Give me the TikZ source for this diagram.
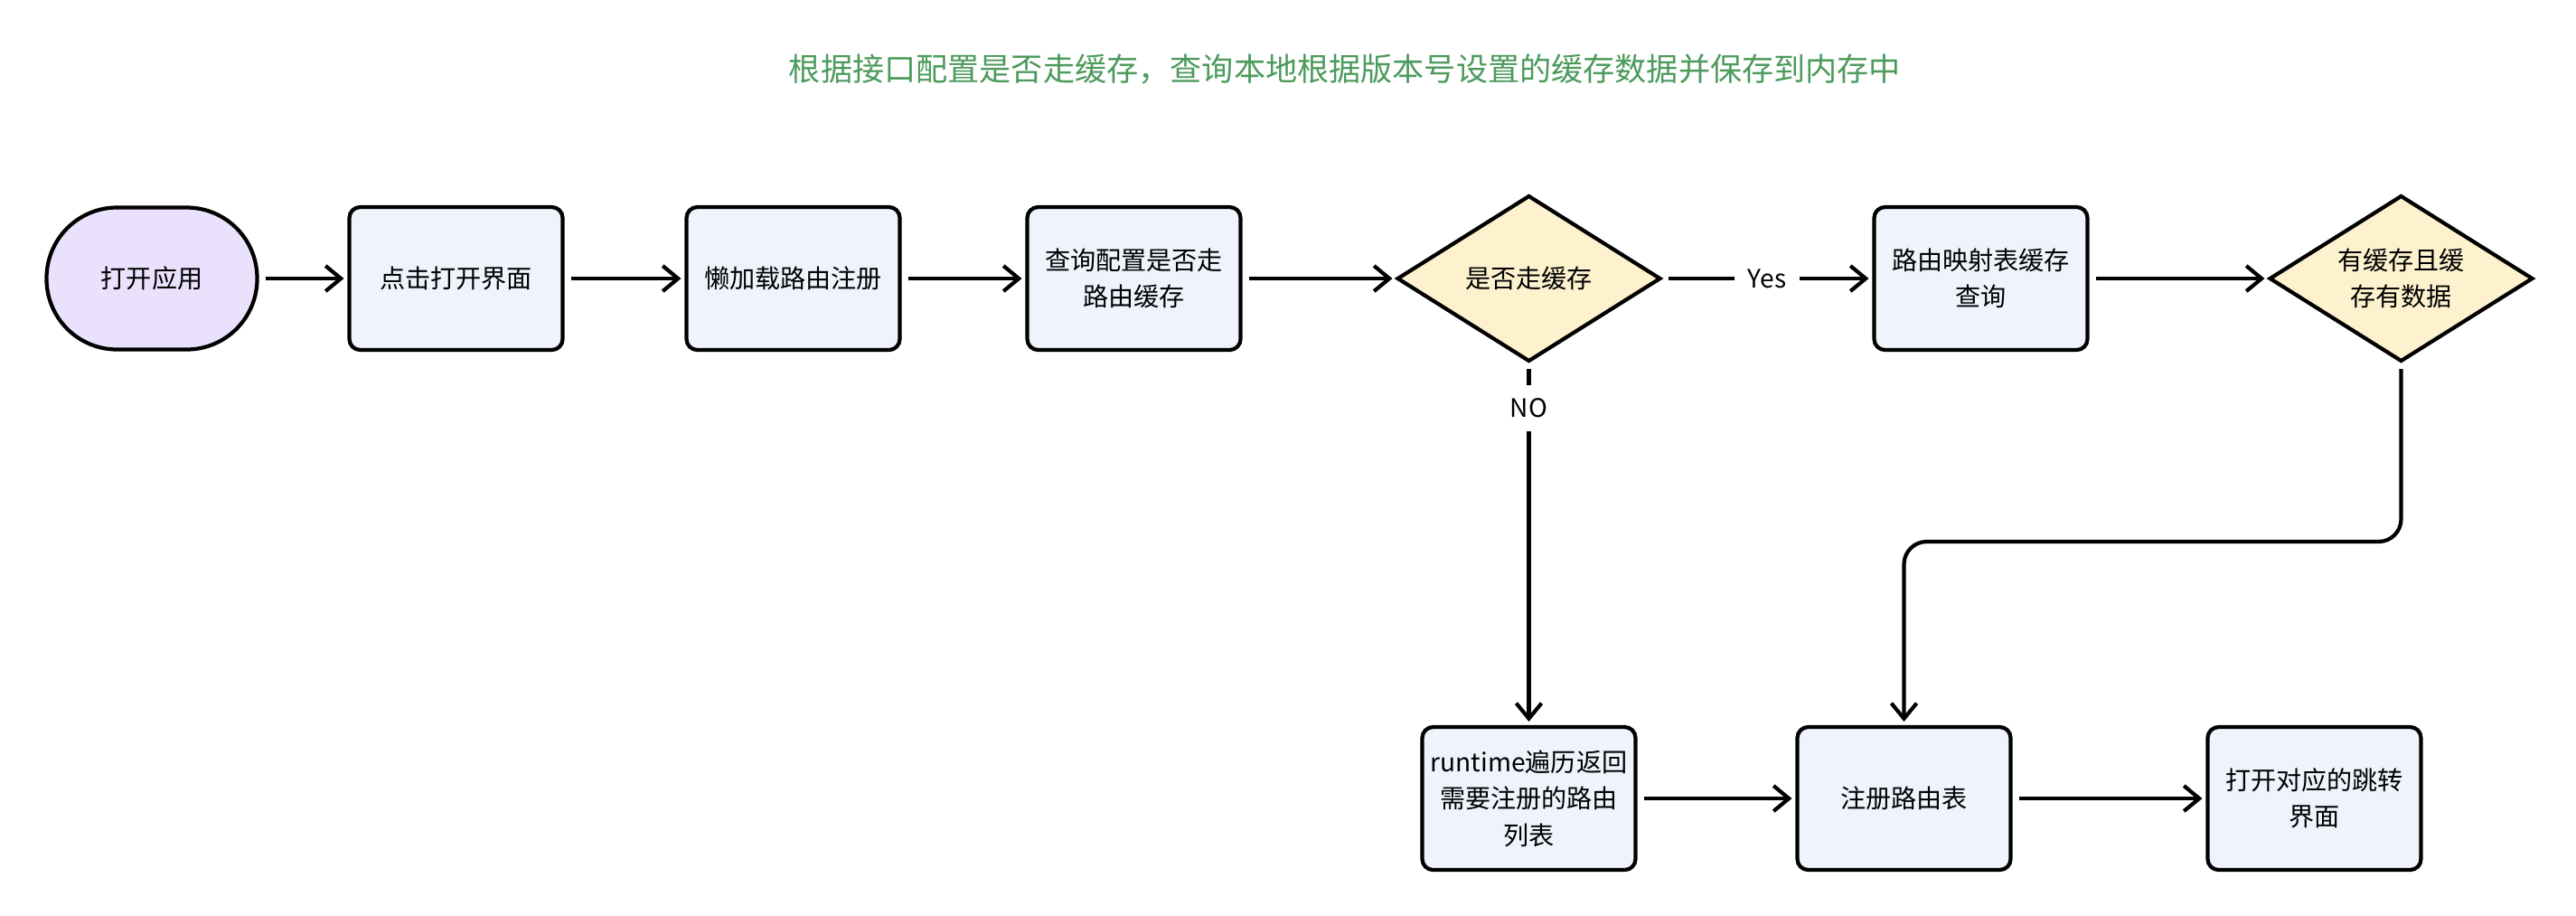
\documentclass[tikz,border=0pt]{standalone}
\usepackage{fontspec}
\setmainfont{Noto Sans CJK SC}
\usepackage{tikz}
\usetikzlibrary{shapes.geometric, arrows.meta, positioning}
\definecolor{cTitle}{RGB}{76,154,92}
\definecolor{cLavender}{RGB}{234,226,253}
\definecolor{cBlue}{RGB}{239,243,252}
\definecolor{cYellow}{RGB}{253,241,206}
\tikzset{
    startstop/.style={rectangle, rounded corners=0.78cm, minimum width=2.33cm, minimum height=1.57cm, text centered, align=center, draw=black, line width=1.2pt, outer sep=0pt, fill=cLavender},
    process/.style  ={rectangle, rounded corners=0.12cm, minimum width=2.36cm, minimum height=1.58cm, text centered, align=center, draw=black, line width=1.2pt, outer sep=0pt, fill=cBlue, inner sep=1pt},
    decision/.style ={diamond, aspect=1.6, minimum width=2.9cm, minimum height=1.82cm, text centered, align=center, draw=black, line width=1.2pt, outer sep=0pt, fill=cYellow, inner sep=0pt},
    flowarrow/.style={-{Straight Barb[length=1.7mm, width=2.8mm]}, line width=1.2pt, shorten <=0.9mm, shorten >=0.6mm},
    edgelabel/.style={fill=white, inner sep=0.15cm},
}

\begin{document}
\begin{tikzpicture}[every node/.style={font=\fontsize{8pt}{11.5pt}\selectfont}]
        \useasboundingbox (0,0) rectangle (28.5,-10.12);
        % title
        \node[text=cTitle, font=\fontsize{10pt}{12pt}\selectfont] (title) at (14.88,-0.77) {根据接口配置是否走缓存，查询本地根据版本号设置的缓存数据并保存到内存中};
        % top row
        \node[startstop] (start) at (1.68,-3.08) {打开应用};
        \node[process, right=1.02cm of start] (openui) {点击打开界面};
        \node[process, right=1.37cm of openui] (lazy) {懒加载路由注册};
        \node[process, right=1.41cm of lazy] (query) {查询配置是否走\\路由缓存};
        \node[decision, right=1.74cm of query] (dec1) {是否走缓存};
        \node[process, right=2.37cm of dec1] (mapq) {路由映射表缓存\\查询};
        \node[decision, right=2.02cm of mapq] (dec2) {有缓存且缓\\存有数据};
        % bottom row
        \node[process, below=4.05cm of dec1] (runtime) {runtime遍历返回\\需要注册的路由\\列表};
        \node[process, right=1.79cm of runtime] (reg) {注册路由表};
        \node[process, right=2.18cm of reg] (jump) {打开对应的跳转\\界面};

        % arrows
        \draw[flowarrow] (start) -- (openui);
        \draw[flowarrow] (openui) -- (lazy);
        \draw[flowarrow] (lazy) -- (query);
        \draw[flowarrow] (query) -- (dec1);
        \draw[flowarrow] (dec1) -- node[edgelabel] {Yes} (mapq);
        \draw[flowarrow] (dec1) -- node[edgelabel, pos=0.13] {NO} (runtime);
        \draw[flowarrow] (mapq) -- (dec2);
        \draw[flowarrow, rounded corners=0.25cm] (dec2.south) -- ++(0,-2) -| (reg.north);
        \draw[flowarrow] (runtime) -- (reg);
        \draw[flowarrow] (reg) -- (jump);
    \end{tikzpicture}
\end{document}
